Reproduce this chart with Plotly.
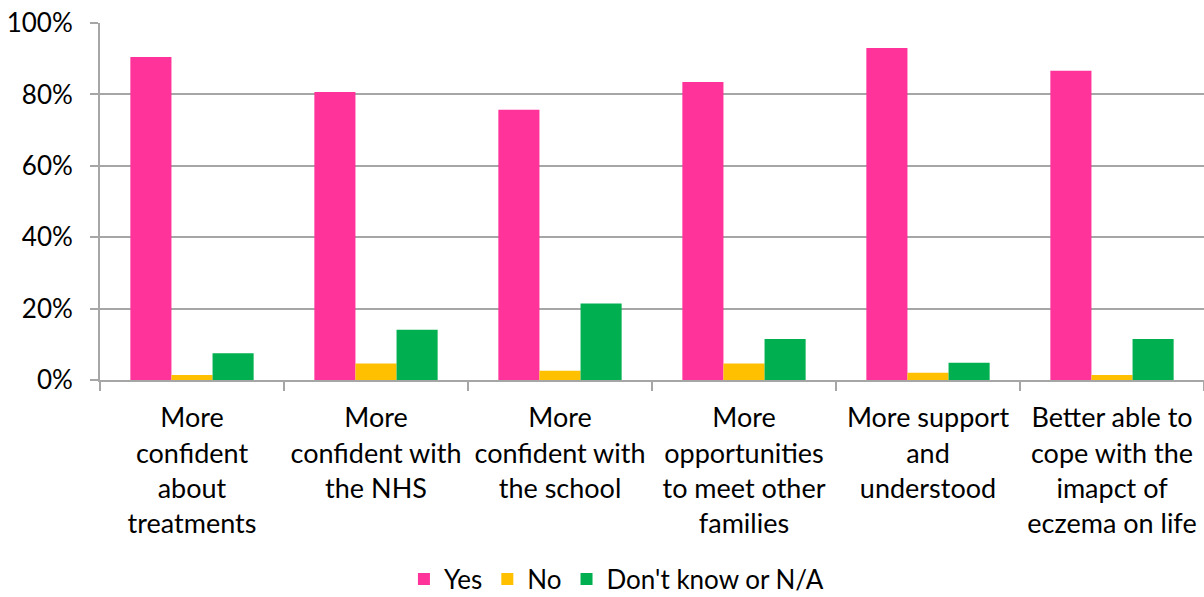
import plotly.graph_objects as go

categories = [
    "More<br>confident<br>about<br>treatments",
    "More<br>confident with<br>the NHS",
    "More<br>confident with<br>the school",
    "More<br>opportunities<br>to meet other<br>families",
    "More support<br>and<br>understood",
    "Better able to<br>cope with the<br>imapct of<br>eczema on life",
]
yes_vals = [0.905, 0.807, 0.757, 0.835, 0.930, 0.866]
no_vals = [0.014, 0.046, 0.026, 0.046, 0.020, 0.014]
dk_vals = [0.075, 0.141, 0.214, 0.115, 0.048, 0.115]

series = [
    ("Yes", yes_vals, "#FF3399"),
    ("No", no_vals, "#FFC000"),
    ("Don't know or N/A", dk_vals, "#00B050"),
]

fig = go.Figure()
for name, vals, color in series:
    fig.add_trace(go.Bar(x=categories, y=vals, name=name, marker_color=color,
                         marker_line_width=0))

grid = "#A6A6A6"
fig.update_layout(
    width=1204, height=597,
    margin=dict(l=100, r=0, t=23, b=217, autoexpand=False),
    paper_bgcolor="white", plot_bgcolor="white",
    barmode="group", bargap=0.33, bargroupgap=0,
    font=dict(family="Lato, Open Sans, sans-serif", size=26, color="#000000"),
    legend=dict(orientation="h", xref="container", x=0.512, xanchor="center",
                yref="container", y=0.03, yanchor="middle",
                font=dict(size=26), itemwidth=30, traceorder="normal"),
    showlegend=True,
)
fig.update_xaxes(
    automargin=False,
    showline=True, linecolor=grid, linewidth=2,
    ticks="outside", tickson="boundaries", ticklen=9, tickcolor=grid, tickwidth=2,
    showgrid=False, tickfont=dict(size=27), ticklabelstandoff=13,
)
fig.update_yaxes(
    automargin=False,
    range=[0, 1], dtick=0.2, tickformat=".0%",
    showline=True, linecolor=grid, linewidth=2,
    ticks="outside", ticklen=8, tickcolor=grid, tickwidth=2,
    showgrid=True, gridcolor=grid, gridwidth=2,
    zeroline=False, tickfont=dict(size=26), ticklabelstandoff=12,
)
fig.write_html("out.html")
